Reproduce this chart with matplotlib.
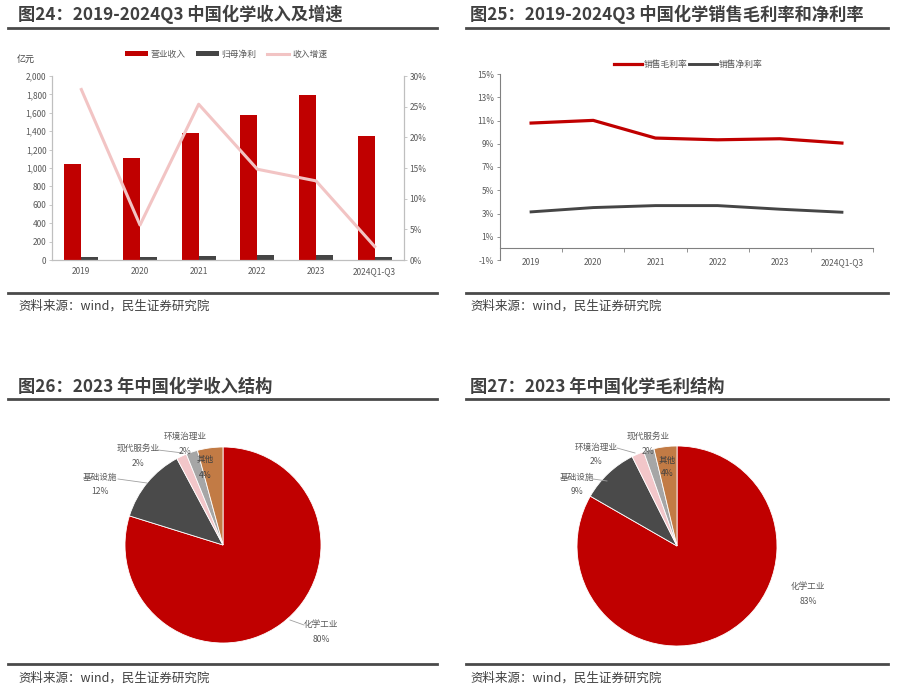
import matplotlib
matplotlib.use('Agg')
import matplotlib.pyplot as plt
import numpy as np
from matplotlib.lines import Line2D
from matplotlib.ticker import FuncFormatter

plt.rcParams['font.family'] = ['Noto Sans CJK SC', 'DejaVu Sans']
plt.rcParams['axes.unicode_minus'] = False

# ---------------- data ----------------
years = ['2019', '2020', '2021', '2022', '2023', '2024Q1-Q3']
revenue = [1040, 1105, 1377, 1580, 1797, 1348]          # 营业收入 (亿元)
net_profit = [28, 30, 42, 52, 52, 32]                   # 归母净利 (亿元)
rev_growth = [27.8, 5.7, 25.4, 14.8, 12.9, 2.2]         # 收入增速 (%)
gross_margin = [10.78, 11.01, 9.49, 9.34, 9.43, 9.06]   # 销售毛利率 (%)
net_margin = [3.14, 3.51, 3.68, 3.68, 3.37, 3.11]       # 销售净利率 (%)

rev_names = ['化学工业', '基础设施', '现代服务业', '环境治理业', '其他']
rev_share = [79.8, 12.4, 1.7, 1.9, 4.2]
gp_names = ['化学工业', '基础设施', '环境治理业', '现代服务业', '其他']
gp_share = [83.3, 9.3, 2.0, 1.7, 3.7]

titles = ['图24：2019-2024Q3 中国化学收入及增速',
          '图25：2019-2024Q3 中国化学销售毛利率和净利率',
          '图26：2023 年中国化学收入结构',
          '图27：2023 年中国化学毛利结构']
source = '资料来源：wind，民生证券研究院'

# ---------------- layout helpers ----------------
W, H = 900, 697
fig = plt.figure(figsize=(W / 100, H / 100), dpi=100)


def fx(x):
    return x / W


def fy(y):
    return 1 - y / H


def rect(x0, y0, x1, y1):
    return [x0 / W, 1 - y1 / H, (x1 - x0) / W, (y1 - y0) / H]


TXT = '#404040'
TICK = '#595959'
SPINE = '#BFBFBF'
RED = '#C00000'
DARK = '#454545'


def hline(x0, x1, y, lw=2.0, color='#4a4a4a'):
    fig.add_artist(Line2D([fx(x0), fx(x1)], [fy(y), fy(y)], color=color, lw=lw))


def header(x_text, y_text, x0, x1, y_rule, s):
    fig.text(fx(x_text), fy(y_text), s, fontsize=12.4, fontweight='bold',
             color=TXT, ha='left', va='center')
    hline(x0, x1, y_rule)


def footer(x_text, y_text, x0, x1, y_rule):
    hline(x0, x1, y_rule)
    fig.text(fx(x_text), fy(y_text), source, fontsize=9, color=TXT,
             ha='left', va='center')


# headers / footers
header(18, 14, 8, 437, 28, titles[0])
header(470, 14, 466, 888, 28, titles[1])
header(18, 387, 8, 437, 399, titles[2])
header(470, 387, 466, 888, 399, titles[3])
footer(18, 306, 8, 437, 293)
footer(470, 306, 466, 888, 293)
footer(18, 678, 8, 437, 664)
footer(470, 678, 466, 888, 664)

x = np.arange(len(years))

# ---------------- chart 1: bars + growth line ----------------
ax1 = fig.add_axes(rect(52, 76, 404, 260))
bw = 0.29
ax1.bar(x - bw / 2, revenue, bw, color=RED, label='营业收入', zorder=2)
ax1.bar(x + bw / 2, net_profit, bw, color=DARK, label='归母净利', zorder=2)
ax1.set_xlim(-0.5, len(years) - 0.5)
ax1.set_ylim(0, 2000)
ax1.set_yticks(range(0, 2001, 200))
ax1.yaxis.set_major_formatter(FuncFormatter(lambda v, p: f'{int(v):,}'))
ax1.set_xticks(x)
ax1.set_xticklabels(years)
ax1b = ax1.twinx()
ax1b.plot(x, rev_growth, color='#F2C4C4', lw=2.2, label='收入增速', zorder=3)
ax1b.set_ylim(0, 30)
ax1b.set_yticks(range(0, 31, 5))
ax1b.yaxis.set_major_formatter(FuncFormatter(lambda v, p: f'{int(v)}%'))
for a in (ax1, ax1b):
    a.spines['top'].set_visible(False)
    for s in ('left', 'right', 'bottom'):
        a.spines[s].set_color(SPINE)
        a.spines[s].set_linewidth(0.8)
    a.tick_params(axis='y', labelsize=6, labelcolor=TICK, color=SPINE,
                  length=2, width=0.6, pad=2)
    a.tick_params(axis='x', labelsize=6, labelcolor=TICK, length=0, pad=5)
ax1.text(-0.075, 1.09, '亿元', transform=ax1.transAxes, fontsize=6.5,
         color=TXT, ha='center', va='center')
h1, l1 = ax1.get_legend_handles_labels()
h2, l2 = ax1b.get_legend_handles_labels()
fig.legend(h1 + h2, l1 + l2, loc='center', bbox_to_anchor=(fx(226), fy(54)),
           ncol=3, frameon=False, fontsize=6.3, labelcolor=TICK,
           handlelength=2.6, handleheight=0.45, handletextpad=0.3,
           columnspacing=1.2)

# ---------------- chart 2: margins ----------------
ax2 = fig.add_axes(rect(500, 74, 873, 260))
ax2.plot(x, gross_margin, color=RED, lw=2.3, label='销售毛利率')
ax2.plot(x, net_margin, color=DARK, lw=2.1, label='销售净利率')
ax2.set_xlim(-0.5, len(years) - 0.5)
ax2.set_ylim(-1, 15)
ax2.set_yticks(range(-1, 16, 2))
ax2.yaxis.set_major_formatter(FuncFormatter(lambda v, p: f'{int(v)}%'))
ax2.spines['bottom'].set_position(('data', 0))
ax2.spines['top'].set_visible(False)
ax2.spines['right'].set_visible(False)
for s in ('left', 'bottom'):
    ax2.spines[s].set_color('#808080')
    ax2.spines[s].set_linewidth(0.8)
ax2.set_xticks(np.arange(-0.5, len(years), 1.0))
ax2.set_xticklabels([])
ax2.set_xticks(x, minor=True)
ax2.set_xticklabels(years, minor=True)
ax2.tick_params(axis='x', which='major', length=3, color='#808080', width=0.6)
ax2.tick_params(axis='x', which='minor', length=0, labelsize=6,
                labelcolor=TICK, pad=7)
ax2.tick_params(axis='y', labelsize=6, labelcolor=TICK, color='#808080',
                length=2.5, width=0.6, pad=2)
ax2.legend(loc='center', bbox_to_anchor=(fx(688), fy(65)),
           bbox_transform=fig.transFigure, ncol=2, frameon=False, fontsize=6.3,
           labelcolor=TICK, handlelength=3.2, handletextpad=0.2,
           columnspacing=0.2)

# ---------------- pies ----------------
PIE_COLORS = [RED, '#4A4A4A', '#F2C6C9', '#A6A6A6', '#C27B45']


def pie_axes(cx, cy, r, shares):
    k = 1.6
    ax = fig.add_axes(rect(cx - k * r, cy - k * r, cx + k * r, cy + k * r))
    ax.pie(shares, colors=PIE_COLORS, startangle=90, counterclock=False,
           radius=1, wedgeprops=dict(edgecolor='white', linewidth=0.6))
    ax.set_xlim(-k, k)
    ax.set_ylim(-k, k)
    ax.set_aspect('equal')
    ax.axis('off')
    return ax


def plabel(name, share, xc, yn, yp, color=TICK):
    fig.text(fx(xc), fy(yn), name, fontsize=6.2, color=color, ha='center', va='center')
    fig.text(fx(xc), fy(yp), f'{share:.0f}%', fontsize=6.2, color=color,
             ha='center', va='center')


def leader(x0, y0, x1, y1):
    fig.add_artist(Line2D([fx(x0), fx(x1)], [fy(y0), fy(y1)], color='#A0A0A0', lw=0.6))


pie_axes(223, 545, 98, rev_share)
plabel(rev_names[0], rev_share[0], 321, 625, 640)
leader(290, 620, 304, 625)
plabel(rev_names[1], rev_share[1], 100, 477, 491)
leader(118, 479, 147, 483)
plabel(rev_names[2], rev_share[2], 138, 448, 463)
leader(158, 450, 183, 453)
plabel(rev_names[3], rev_share[3], 185, 436, 451)
plabel(rev_names[4], rev_share[4], 205, 459, 475, color=TXT)

pie_axes(677, 546, 100, gp_share)
plabel(gp_names[0], gp_share[0], 808, 587, 601)
plabel(gp_names[1], gp_share[1], 577, 477, 492)
leader(593, 479, 607, 481)
plabel(gp_names[2], gp_share[2], 596, 447, 462)
leader(617, 448, 635, 453)
plabel(gp_names[3], gp_share[3], 648, 436, 451)
plabel(gp_names[4], gp_share[4], 667, 460, 473, color=TXT)

fig.savefig('out.png', dpi=100)
